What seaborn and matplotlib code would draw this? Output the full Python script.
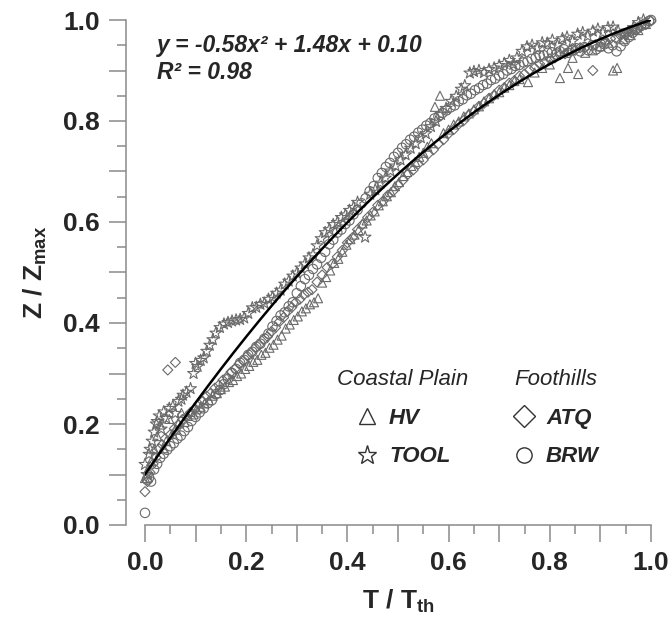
import numpy as np
import pandas as pd
import matplotlib.pyplot as plt
from matplotlib.lines import Line2D
from matplotlib.ticker import MultipleLocator, FuncFormatter
import seaborn as sns

# ---- data ----
brw_t = [0.000, 0.004, 0.008, 0.012, 0.018, 0.024, 0.030, 0.037, 0.044, 0.050, 0.057, 0.064, 0.071, 0.078,
         0.085, 0.092, 0.100, 0.108, 0.116, 0.124, 0.132, 0.140, 0.148, 0.156, 0.164, 0.172, 0.180, 0.188,
         0.196, 0.204, 0.212, 0.220, 0.228, 0.236, 0.244, 0.252, 0.260, 0.268, 0.276, 0.284, 0.292, 0.300,
         0.308, 0.316, 0.324, 0.332, 0.340, 0.348, 0.356, 0.364, 0.372, 0.380, 0.388, 0.396, 0.404, 0.412,
         0.420, 0.428, 0.436, 0.444, 0.452, 0.460, 0.468, 0.476, 0.484, 0.492, 0.500, 0.508, 0.516, 0.524,
         0.532, 0.540, 0.548, 0.556, 0.564, 0.572, 0.580, 0.588, 0.596, 0.604, 0.612, 0.620, 0.628, 0.636,
         0.644, 0.652, 0.660, 0.668, 0.676, 0.684, 0.692, 0.700, 0.708, 0.716, 0.724, 0.732, 0.740, 0.748,
         0.756, 0.764, 0.772, 0.780, 0.788, 0.796, 0.804, 0.812, 0.820, 0.828, 0.836, 0.844, 0.852, 0.860,
         0.868, 0.876, 0.884, 0.892, 0.900, 0.908, 0.916, 0.924, 0.932, 0.940, 0.948, 0.956, 0.964, 0.972,
         0.980, 0.988, 0.996, 1.000]
brw_z = [0.024, 0.090, 0.094, 0.086, 0.110, 0.121, 0.133, 0.141, 0.149, 0.156, 0.162, 0.171, 0.177, 0.186,
         0.194, 0.206, 0.214, 0.223, 0.231, 0.241, 0.247, 0.259, 0.267, 0.279, 0.289, 0.301, 0.309, 0.321,
         0.327, 0.337, 0.343, 0.353, 0.359, 0.369, 0.379, 0.393, 0.404, 0.415, 0.421, 0.433, 0.441, 0.459,
         0.473, 0.487, 0.495, 0.507, 0.516, 0.529, 0.541, 0.556, 0.565, 0.579, 0.585, 0.596, 0.603, 0.615,
         0.624, 0.637, 0.647, 0.661, 0.671, 0.687, 0.697, 0.709, 0.717, 0.729, 0.737, 0.747, 0.754, 0.763,
         0.769, 0.777, 0.783, 0.791, 0.796, 0.805, 0.809, 0.816, 0.821, 0.827, 0.831, 0.839, 0.843, 0.851,
         0.854, 0.861, 0.865, 0.871, 0.874, 0.881, 0.884, 0.890, 0.893, 0.900, 0.903, 0.909, 0.911, 0.916,
         0.918, 0.923, 0.925, 0.930, 0.930, 0.935, 0.936, 0.932, 0.938, 0.942, 0.935, 0.940, 0.944, 0.938,
         0.946, 0.940, 0.950, 0.942, 0.947, 0.952, 0.944, 0.950, 0.938, 0.948, 0.958, 0.966, 0.975, 0.982,
         0.988, 0.993, 0.998, 1.000]

hv_t = [0.000, 0.006, 0.012, 0.018, 0.024, 0.030, 0.036, 0.042, 0.048, 0.054, 0.060, 0.066, 0.072, 0.078,
        0.084, 0.090, 0.096, 0.102, 0.110, 0.118, 0.126, 0.134, 0.142, 0.150, 0.158, 0.166, 0.174, 0.182,
        0.190, 0.198, 0.206, 0.214, 0.222, 0.230, 0.238, 0.246, 0.254, 0.262, 0.270, 0.278, 0.286, 0.294,
        0.302, 0.310, 0.318, 0.326, 0.334, 0.342, 0.350, 0.358, 0.366, 0.374, 0.382, 0.390, 0.398, 0.406,
        0.414, 0.422, 0.430, 0.438, 0.446, 0.454, 0.462, 0.470, 0.478, 0.486, 0.494, 0.502, 0.510, 0.518,
        0.526, 0.534, 0.542, 0.550, 0.558, 0.566, 0.573, 0.583, 0.590, 0.600, 0.610, 0.620, 0.630, 0.640,
        0.650, 0.660, 0.670, 0.680, 0.690, 0.700, 0.710, 0.720, 0.730, 0.740, 0.757, 0.770, 0.785, 0.800,
        0.820, 0.836, 0.845, 0.856, 0.870, 0.885, 0.900, 0.915, 0.925, 0.933, 0.945, 0.960, 0.975, 0.990]
hv_z = [0.093, 0.110, 0.126, 0.150, 0.176, 0.199, 0.152, 0.166, 0.210, 0.181, 0.189, 0.201, 0.222, 0.204,
        0.216, 0.224, 0.219, 0.229, 0.234, 0.241, 0.247, 0.256, 0.261, 0.269, 0.274, 0.283, 0.287, 0.295,
        0.300, 0.309, 0.315, 0.323, 0.327, 0.337, 0.341, 0.351, 0.357, 0.367, 0.375, 0.389, 0.397, 0.406,
        0.413, 0.423, 0.429, 0.437, 0.441, 0.449, 0.480, 0.491, 0.504, 0.519, 0.527, 0.541, 0.555, 0.566,
        0.575, 0.584, 0.597, 0.603, 0.613, 0.621, 0.633, 0.641, 0.651, 0.659, 0.671, 0.679, 0.691, 0.699,
        0.711, 0.719, 0.729, 0.737, 0.749, 0.756, 0.828, 0.850, 0.776, 0.783, 0.793, 0.799, 0.809, 0.815,
        0.823, 0.829, 0.839, 0.845, 0.853, 0.857, 0.866, 0.871, 0.879, 0.883, 0.877, 0.896, 0.905, 0.912,
        0.885, 0.905, 0.925, 0.893, 0.935, 0.940, 0.948, 0.955, 0.900, 0.905, 0.962, 0.970, 0.980, 0.992]

tool_t = [0.000, 0.004, 0.008, 0.010, 0.014, 0.018, 0.022, 0.024, 0.028, 0.032, 0.037, 0.042, 0.048, 0.055,
          0.060, 0.066, 0.072, 0.075, 0.082, 0.090, 0.096, 0.100, 0.104, 0.110, 0.116, 0.122, 0.128, 0.134,
          0.140, 0.148, 0.156, 0.164, 0.172, 0.180, 0.188, 0.196, 0.204, 0.212, 0.220, 0.228, 0.236, 0.244,
          0.252, 0.260, 0.268, 0.276, 0.284, 0.292, 0.300, 0.308, 0.316, 0.324, 0.332, 0.340, 0.348, 0.356,
          0.364, 0.372, 0.380, 0.388, 0.396, 0.404, 0.412, 0.420, 0.435, 0.445, 0.455, 0.465, 0.475, 0.485,
          0.495, 0.505, 0.515, 0.525, 0.535, 0.545, 0.555, 0.565, 0.575, 0.585, 0.595, 0.605, 0.615, 0.625,
          0.632, 0.642, 0.650, 0.660, 0.670, 0.680, 0.690, 0.700, 0.710, 0.720, 0.728, 0.735, 0.745, 0.755,
          0.765, 0.775, 0.785, 0.795, 0.805, 0.815, 0.825, 0.834, 0.845, 0.855, 0.865, 0.875, 0.885, 0.895,
          0.905, 0.915, 0.925, 0.935, 0.945, 0.955, 0.965, 0.975, 0.985]
tool_z = [0.120, 0.100, 0.140, 0.150, 0.166, 0.184, 0.200, 0.205, 0.216, 0.190, 0.224, 0.211, 0.231, 0.235,
          0.221, 0.245, 0.249, 0.257, 0.263, 0.270, 0.300, 0.320, 0.314, 0.326, 0.331, 0.344, 0.356, 0.367,
          0.380, 0.391, 0.398, 0.401, 0.404, 0.406, 0.407, 0.410, 0.419, 0.430, 0.431, 0.437, 0.439, 0.447,
          0.451, 0.459, 0.465, 0.477, 0.483, 0.493, 0.499, 0.509, 0.517, 0.529, 0.535, 0.553, 0.567, 0.579,
          0.585, 0.595, 0.599, 0.609, 0.614, 0.623, 0.629, 0.639, 0.570, 0.655, 0.664, 0.677, 0.687, 0.701,
          0.711, 0.723, 0.733, 0.746, 0.755, 0.767, 0.775, 0.789, 0.799, 0.813, 0.825, 0.839, 0.849, 0.863,
          0.870, 0.895, 0.898, 0.900, 0.896, 0.902, 0.905, 0.910, 0.914, 0.920, 0.912, 0.925, 0.938, 0.947,
          0.950, 0.944, 0.955, 0.954, 0.960, 0.950, 0.963, 0.966, 0.958, 0.972, 0.975, 0.968, 0.978, 0.982,
          0.975, 0.985, 0.986, 0.978, 0.970, 0.975, 0.985, 0.995, 1.000]

atq_t = [0.000, 0.005, 0.010, 0.016, 0.022, 0.028, 0.034, 0.040, 0.045, 0.050, 0.058, 0.060, 0.066, 0.074,
         0.082, 0.090, 0.098, 0.106, 0.114, 0.122, 0.130, 0.138, 0.146, 0.154, 0.162, 0.170, 0.178, 0.186,
         0.194, 0.202, 0.210, 0.218, 0.226, 0.234, 0.242, 0.250, 0.258, 0.266, 0.274, 0.282, 0.290, 0.298,
         0.306, 0.314, 0.322, 0.330, 0.340, 0.350, 0.360, 0.370, 0.380, 0.390, 0.400, 0.410, 0.420, 0.430,
         0.440, 0.450, 0.460, 0.470, 0.480, 0.490, 0.500, 0.510, 0.520, 0.530, 0.540, 0.550, 0.560, 0.570,
         0.580, 0.590, 0.600, 0.610, 0.620, 0.630, 0.640, 0.650, 0.660, 0.670, 0.680, 0.690, 0.700, 0.710,
         0.720, 0.730, 0.740, 0.750, 0.760, 0.770, 0.780, 0.790, 0.800, 0.810, 0.820, 0.830, 0.840, 0.850,
         0.860, 0.870, 0.885, 0.890, 0.900, 0.910, 0.920, 0.930, 0.940, 0.950, 0.960, 0.970, 0.980, 0.990,
         1.000]
atq_z = [0.066, 0.086, 0.104, 0.121, 0.134, 0.151, 0.159, 0.171, 0.307, 0.179, 0.191, 0.322, 0.199, 0.209,
         0.214, 0.223, 0.229, 0.239, 0.245, 0.255, 0.261, 0.271, 0.277, 0.287, 0.293, 0.303, 0.309, 0.319,
         0.325, 0.335, 0.341, 0.351, 0.357, 0.367, 0.373, 0.383, 0.391, 0.403, 0.411, 0.423, 0.431, 0.441,
         0.447, 0.456, 0.461, 0.466, 0.481, 0.495, 0.510, 0.517, 0.531, 0.544, 0.559, 0.569, 0.585, 0.595,
         0.609, 0.619, 0.633, 0.641, 0.653, 0.661, 0.673, 0.683, 0.695, 0.703, 0.715, 0.723, 0.735, 0.743,
         0.755, 0.763, 0.775, 0.783, 0.794, 0.801, 0.812, 0.819, 0.829, 0.835, 0.845, 0.851, 0.861, 0.866,
         0.875, 0.880, 0.889, 0.893, 0.901, 0.905, 0.913, 0.916, 0.923, 0.925, 0.931, 0.933, 0.939, 0.940,
         0.945, 0.946, 0.900, 0.951, 0.956, 0.957, 0.963, 0.964, 0.969, 0.971, 0.977, 0.980, 0.987, 0.991,
         0.998]

fit_coef = [-0.58, 1.48, 0.10]

sites = ['HV', 'TOOL', 'ATQ', 'BRW']
markers = {'HV': '^', 'TOOL': '*', 'ATQ': 'D', 'BRW': 'o'}
sizes = {'HV': 42, 'TOOL': 80, 'ATQ': 26, 'BRW': 46}

df = pd.concat([
    pd.DataFrame({'T': hv_t, 'Z': hv_z, 'Site': 'HV'}),
    pd.DataFrame({'T': tool_t, 'Z': tool_z, 'Site': 'TOOL'}),
    pd.DataFrame({'T': atq_t, 'Z': atq_z, 'Site': 'ATQ'}),
    pd.DataFrame({'T': brw_t, 'Z': brw_z, 'Site': 'BRW'}),
], ignore_index=True)

sns.set_theme(style="white")
plt.rcParams['font.family'] = ['Liberation Sans', 'DejaVu Sans']
plt.rcParams['mathtext.fontset'] = 'custom'
plt.rcParams['mathtext.rm'] = 'Liberation Sans:bold'
plt.rcParams['mathtext.it'] = 'Liberation Sans:bold:italic'
plt.rcParams['mathtext.bf'] = 'Liberation Sans:bold'

fig = plt.figure(figsize=(6.72, 6.2), dpi=100)
ax = fig.add_axes([145 / 672, 95 / 620, 506 / 672, 505 / 620])

gray = '#6a6a6a'
for s in sites:
    sub = df[df['Site'] == s]
    sns.scatterplot(data=sub, x='T', y='Z', marker=markers[s], s=sizes[s],
                    facecolor='none', edgecolor=gray, linewidth=0.8,
                    clip_on=False, legend=False, ax=ax, zorder=2)

# fitted polynomial
fit = pd.DataFrame({'T': np.linspace(0, 1, 200)})
fit['Z'] = np.polyval(fit_coef, fit['T'])
sns.lineplot(data=fit, x='T', y='Z', color='black', linewidth=1.8, ax=ax, zorder=3)

ax.set_xlim(0, 1)
ax.set_ylim(0, 1)

# axes styling
for side in ['top', 'right']:
    ax.spines[side].set_visible(False)
for side in ['left', 'bottom']:
    ax.spines[side].set_color('#8a8a8a')
    ax.spines[side].set_linewidth(1.1)
ax.spines['left'].set_position(('outward', 13.7))
ax.spines['left'].set_bounds(0, 1)
ax.spines['bottom'].set_bounds(0, 1)

lab = FuncFormatter(lambda v, p: f'{v:.1f}' if round(v * 10) % 2 == 0 else '')
for axis in [ax.xaxis, ax.yaxis]:
    axis.set_major_locator(MultipleLocator(0.1))
    axis.set_minor_locator(MultipleLocator(0.05))
    axis.set_major_formatter(lab)
ax.tick_params(which='major', direction='out', length=12, width=1.1, color='#8a8a8a',
               labelsize=19, pad=7, left=True, bottom=True)
ax.tick_params(which='minor', direction='out', length=6.5, width=1.1, color='#8a8a8a',
               left=True, bottom=True)
for t in ax.get_xticklabels() + ax.get_yticklabels():
    t.set_fontweight('bold')

ax.set_xlabel(r'T / T$_{\mathrm{th}}$', fontsize=19, fontweight='bold')
ax.set_ylabel(r'Z / Z$_{\mathrm{max}}$', fontsize=19, fontweight='bold')
ax.xaxis.set_label_coords(0.5, -0.125)
ax.yaxis.set_label_coords(-0.19, 0.5)

# equation
ax.text(0.024, 0.950, 'y = -0.58x² + 1.48x + 0.10', transform=ax.transAxes,
        fontsize=16.5, fontweight='bold', style='italic', va='center')
ax.text(0.024, 0.897, 'R² = 0.98', transform=ax.transAxes,
        fontsize=16.5, fontweight='bold', style='italic', va='center')

# legends
def handle(s):
    return Line2D([], [], linestyle='none', marker=markers[s], markersize=11 if s != 'TOOL' else 14,
                  markerfacecolor='none', markeredgecolor='#333333', markeredgewidth=1.0)

item_font = dict(family=['Liberation Sans'], weight='bold', style='italic', size=16)
title_font = dict(family=['Liberation Sans'], style='italic', size=16)
leg1 = ax.legend([handle('HV'), handle('TOOL')], ['HV', 'TOOL'], title='Coastal Plain',
                 loc='upper center', bbox_to_anchor=(0.51, 0.34), frameon=False,
                 prop=item_font, title_fontproperties=title_font, alignment='center',
                 handlelength=1.0, handletextpad=0.5, labelspacing=0.8, borderpad=0.2)
ax.add_artist(leg1)
leg2 = ax.legend([handle('ATQ'), handle('BRW')], ['ATQ', 'BRW'], title='Foothills',
                 loc='upper center', bbox_to_anchor=(0.812, 0.34), frameon=False,
                 prop=item_font, title_fontproperties=title_font, alignment='center',
                 handlelength=1.0, handletextpad=0.5, labelspacing=0.8, borderpad=0.2)

fig.savefig('out.png', dpi=100)
